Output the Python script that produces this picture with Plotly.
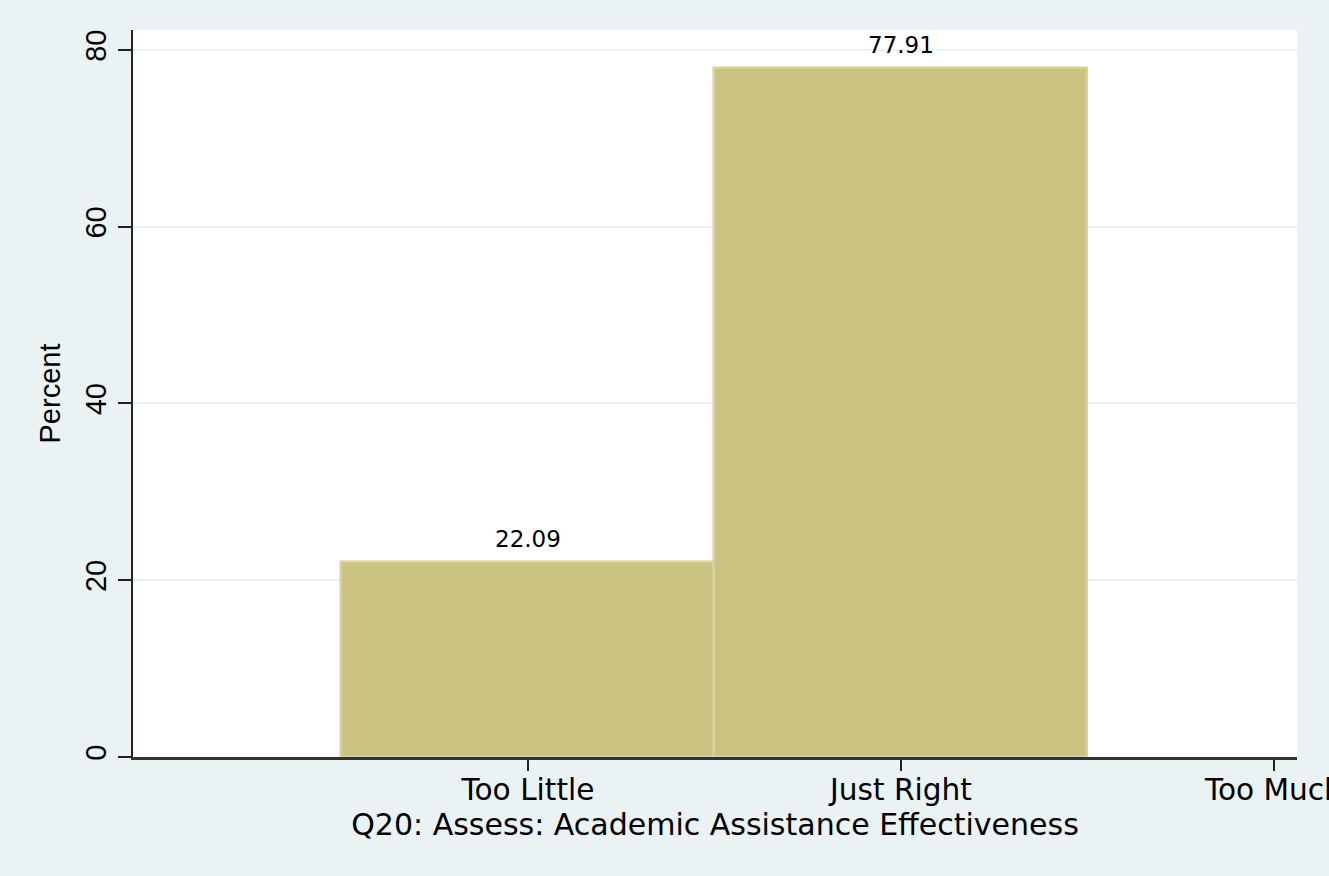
import plotly.graph_objects as go

categories = ["Too Little", "Just Right", "Too Much"]
positions = [1, 2, 3]
percents = [22.09, 77.91, 0.0]
y_ticks = [0, 20, 40, 60, 80]

bx = [p for p, v in zip(positions, percents) if v > 0]
by = [v for v in percents if v > 0]

FONT = "Liberation Sans, Arial, Helvetica, sans-serif"
WIDE = "DejaVu Sans, Verdana, sans-serif"

fig = go.Figure()
fig.add_trace(go.Bar(
    x=bx, y=by, width=1,
    marker=dict(color="#CBC382", line=dict(color="#D8D19E", width=2.5)),
    hoverinfo="skip",
))

for x, y in zip(bx, by):
    fig.add_annotation(x=x, y=y, text=f"{y:.2f}", showarrow=False,
                       yanchor="bottom", yshift=8,
                       font=dict(family=WIDE, size=23, color="black"))

fig.update_layout(
    width=1329, height=876, autosize=False,
    margin=dict(l=133, r=32, t=30, b=119),
    paper_bgcolor="#EAF2F3",
    plot_bgcolor="white",
    showlegend=False,
    font=dict(family=FONT, color="black"),
    bargap=0,
)
fig.update_xaxes(
    range=[-0.059, 3.062],
    automargin=False,
    tickvals=positions, ticktext=categories,
    ticks="outside", ticklen=11, tickwidth=1.5, tickcolor="#222",
    ticklabeloverflow="allow",
    ticklabelstandoff=-6,
    showline=True, linecolor="#333", linewidth=2.5,
    showgrid=False, zeroline=False,
    tickfont=dict(family=WIDE, size=29.6, color="black"),
    title=dict(text="Q20: Assess: Academic Assistance Effectiveness",
               font=dict(family=WIDE, size=30, color="black"), standoff=2),
)
fig.update_yaxes(
    range=[0, 82.26],
    automargin=False,
    tickvals=y_ticks,
    ticks="outside", ticklen=13, tickwidth=1.5, tickcolor="#222",
    showline=True, linecolor="#222", linewidth=2,
    showgrid=True, gridcolor="#EAF2F3", gridwidth=2,
    zeroline=False,
    tickangle=-90,
    tickfont=dict(family=FONT, size=29, color="black"),
    title=dict(text="Percent", font=dict(family=FONT, size=29, color="black"), standoff=11),
)

fig.write_html(
    "out.html",
    config={"responsive": False, "displayModeBar": False},
    post_script=("document.body.style.margin='0';"
                 "document.body.style.overflow='hidden';"
                 "document.body.style.background='#EAF2F3';"),
)
